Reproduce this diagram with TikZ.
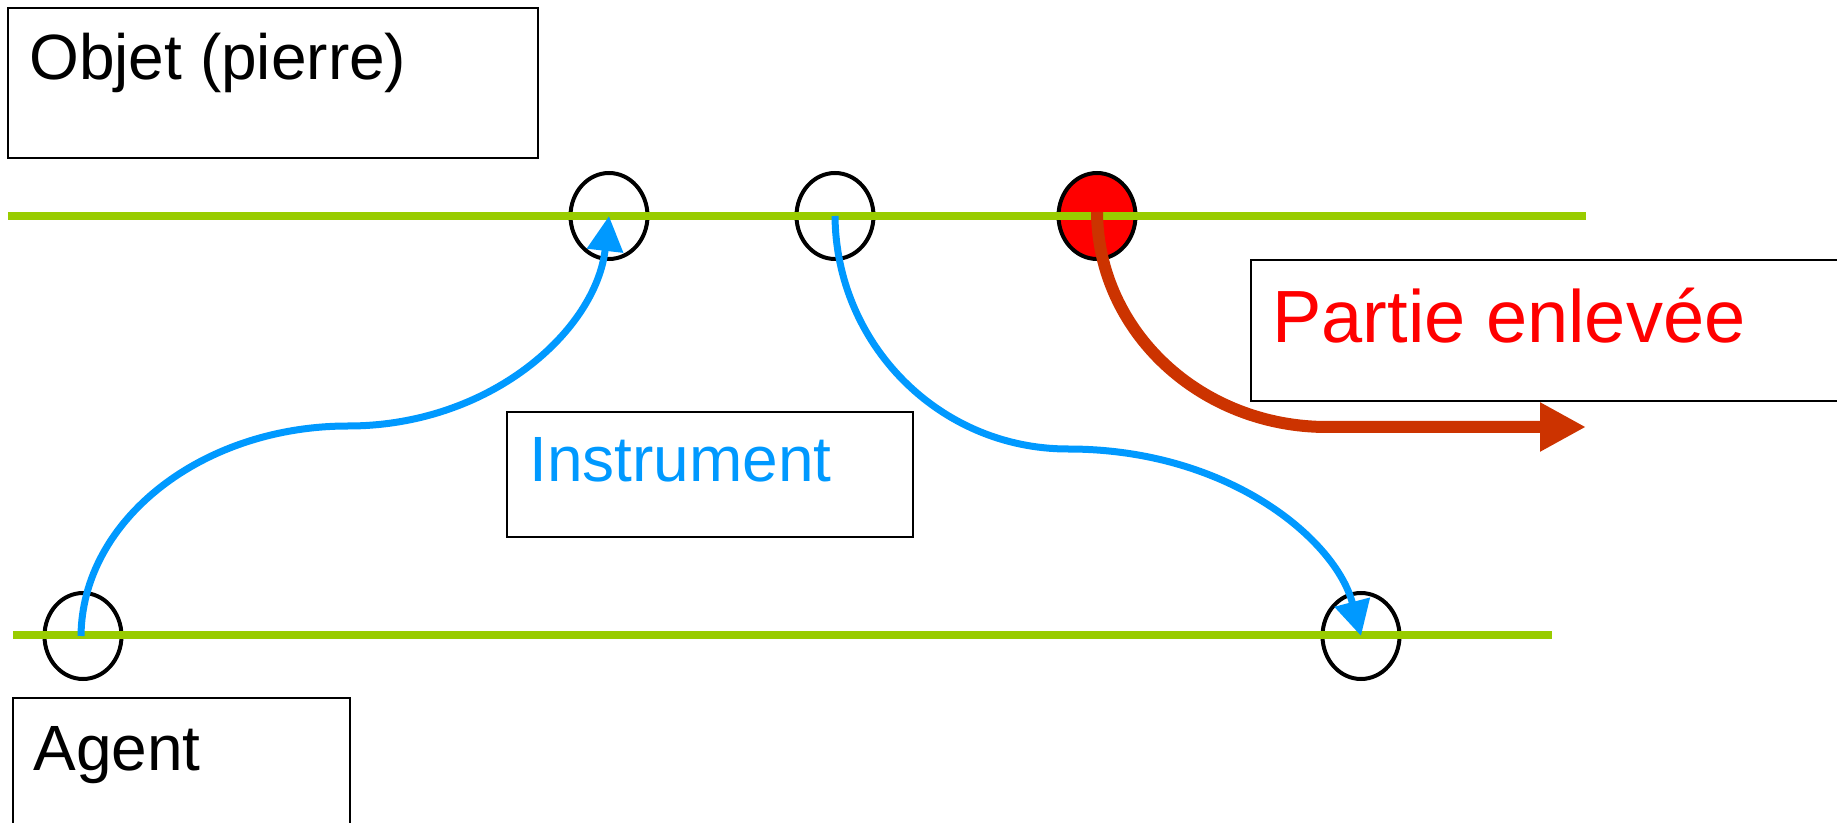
\documentclass[tikz,border=0pt]{standalone}
\usepackage{fontspec}
\setmainfont{Liberation Sans}
\usetikzlibrary{arrows.meta,shapes.geometric}
\definecolor{lime}{HTML}{99CC00}
\definecolor{skyblue}{HTML}{0099FF}
\definecolor{brick}{HTML}{CC3300}
\definecolor{pure red}{HTML}{FF0000}
\tikzset{
  framebox/.style={draw=black, line width=1pt},
  pointnode/.style={ellipse, draw=black, line width=2pt, minimum width=38.5pt, minimum height=43pt, inner sep=0pt},
  timeline/.style={draw=lime, line width=4pt},
  bluelink/.style={draw=skyblue, line width=3.5pt, -{Triangle[length=17.5pt,width=17.5pt]}},
  redlink/.style={draw=brick, line width=6pt, -{Triangle[length=23pt,width=23pt]}},
  label/.style={anchor=base west, inner sep=0pt, font=\fontsize{32pt}{38pt}\selectfont},
}
\begin{document}
\begin{tikzpicture}[x=0.5pt, y=-0.5pt]
\useasboundingbox (0,0) rectangle (1837,823);

% text frames
\draw[framebox] (8,8) rectangle (538,158);
\draw[framebox] (1850,260) -- (1251,260) -- (1251,401) -- (1850,401);
\draw[framebox] (507,412) rectangle (913,537);
\draw[framebox] (13,698) rectangle (350,840);

\node[label] (objet) at (29,80) {Objet (pierre)};
\node[label, text=pure red, font=\fontsize{37pt}{43pt}\selectfont] (partie) at (1272,343) {Partie enlevée};
\node[label, text=skyblue] (instr) at (529,482) {Instrument};
\node[label] (agent) at (33,770) {Agent};

% event points
\node[pointnode] (o1) at (609,216) {};
\node[pointnode] (o2) at (835,216) {};
\node[pointnode, fill=pure red] (o3) at (1097,216) {};
\node[pointnode] (a1) at (83,636) {};
\node[pointnode] (a2) at (1361,636) {};

% time lines
\draw[timeline] (8,216) -- (1586,216);
\draw[timeline] (13,635) -- (1552,635);

% links
\coordinate (k1) at (348,426);
\coordinate (k2) at (1068,449);
\coordinate (k3) at (1327,427);
\coordinate (tip) at (1586,427);

\draw[bluelink] ([xshift=-1]a1.center) .. controls (82,520) and (202,426) .. (k1)
  .. controls (491,426) and (596,330) .. (o1.center);
\draw[bluelink] (o2.center) .. controls (836,344) and (939,449) .. (k2)
  .. controls (1229,449) and (1336,540) .. (a2.center);
\draw[redlink] ([yshift=2]o3.center) .. controls (1098,332) and (1201,427) .. (k3) -- (tip);
\end{tikzpicture}
\end{document}
